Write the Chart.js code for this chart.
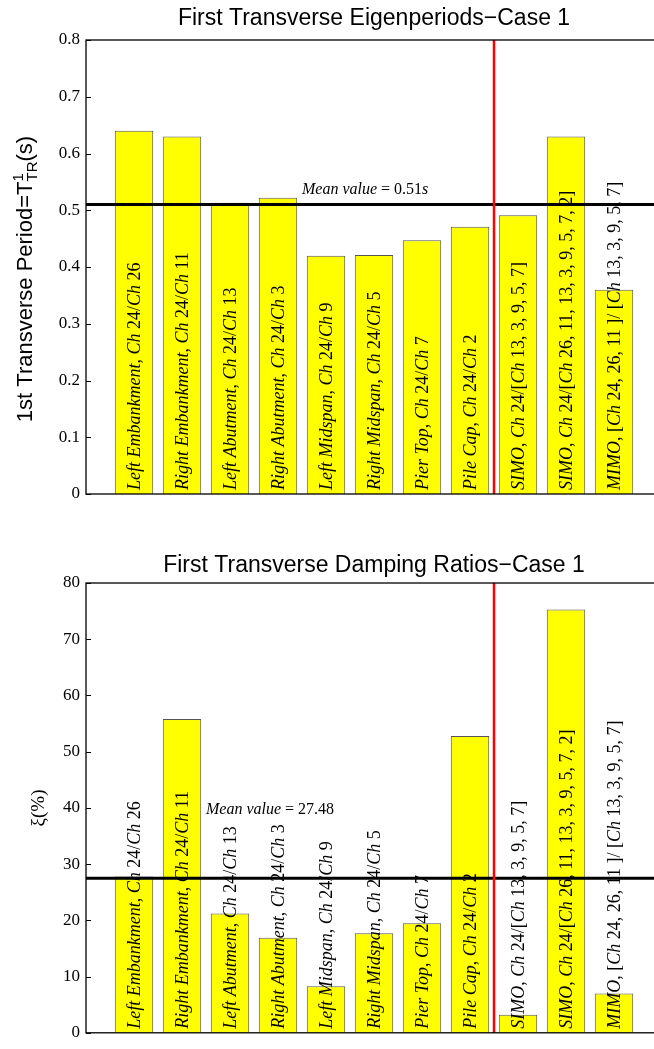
<!DOCTYPE html>
<html>
<head>
<meta charset="utf-8">
<title>First Transverse Eigenperiods / Damping Ratios - Case 1</title>
<script src="https://cdn.jsdelivr.net/npm/chart.js@4.4.1/dist/chart.umd.min.js"></script>
<style>
    html, body { margin: 0; padding: 0; background: #fff; overflow: hidden; }
    #wrap { position: relative; width: 654px; height: 1049px; overflow: hidden; }
    canvas { position: absolute; left: 0; }
    #periodChart { top: 0; }
    #dampingChart { top: 530px; }
</style>
</head>
<body>
<div id="wrap">
    <canvas id="periodChart" width="670" height="530"></canvas>
    <canvas id="dampingChart" width="670" height="519"></canvas>
</div>
<script>
// ============================================================================
// DATA
// ============================================================================

const barLabels = [
    'Left Embankment, Ch 24/Ch 26',
    'Right Embankment, Ch 24/Ch 11',
    'Left Abutment, Ch 24/Ch 13',
    'Right Abutment, Ch 24/Ch 3',
    'Left Midspan, Ch 24/Ch 9',
    'Right Midspan, Ch 24/Ch 5',
    'Pier Top, Ch 24/Ch 7',
    'Pile Cap, Ch 24/Ch 2',
    'SIMO, Ch 24/[Ch 13, 3, 9, 5, 7]',
    'SIMO, Ch 24/[Ch 26, 11, 13, 3, 9, 5, 7, 2]',
    'MIMO, [Ch 24, 26, 11 ]/ [Ch 13, 3, 9, 5, 7]'
];

// bar positions on the x axis (MATLAB style 1..11, xlim 0..12)
const barPositions = [1, 2, 3, 4, 5, 6, 7, 8, 9, 10, 11];

// first transverse period T (s)
const periods = [0.64, 0.63, 0.513, 0.522, 0.42, 0.421, 0.447, 0.471, 0.491, 0.63, 0.36];

// first transverse damping ratio (%)
const damping = [27.8, 55.8, 21.2, 16.9, 8.3, 17.7, 19.5, 52.8, 3.2, 75.3, 7.0];

const periodMean = 0.51;
const dampingMean = 27.48;
const separatorAt = 8.5;   // red line between single-channel and SIMO/MIMO results

// ============================================================================
// PLUGIN: MATLAB-like decorations (box, inward ticks, labels, lines, titles)
// ============================================================================

const SERIF = '"Liberation Serif", "Times New Roman", serif';
const SANS = '"Liberation Sans", Arial, Helvetica, sans-serif';

// Draws a string split in runs: letters italic, digits/punctuation upright
function drawMixedText(ctx, text, x, y, size) {
    const runs = text.split(/([A-Za-z]+)/).filter(r => r.length);
    let cx = x;
    runs.forEach(r => {
        const italic = /^[A-Za-z]+$/.test(r);
        ctx.font = (italic ? 'italic ' : '') + size + 'px ' + SERIF;
        ctx.fillText(r, cx, y);
        cx += ctx.measureText(r).width;
    });
}

const matlabPlugin = {
    id: 'matlab',
    afterDatasetsDraw(chart, args, opts) {
        const ctx = chart.ctx;
        const area = chart.chartArea;
        const xs = chart.scales.x;
        const ys = chart.scales.y;

        ctx.save();

        // Labels written vertically inside the bars
        ctx.fillStyle = '#000';
        ctx.textBaseline = 'alphabetic';
        ctx.textAlign = 'left';
        barLabels.forEach((lab, i) => {
            const px = xs.getPixelForValue(barPositions[i]);
            ctx.save();
            ctx.translate(px + 6, area.bottom - 4);
            ctx.rotate(-Math.PI / 2);
            drawMixedText(ctx, lab, 0, 0, 18);
            ctx.restore();
        });

        // Mean value line
        const my = ys.getPixelForValue(opts.mean);
        ctx.strokeStyle = '#000';
        ctx.lineWidth = 3;
        ctx.beginPath();
        ctx.moveTo(area.left, my);
        ctx.lineTo(area.right, my);
        ctx.stroke();

        // Mean value text
        const tx = xs.getPixelForValue(opts.meanTextX);
        const ty = ys.getPixelForValue(opts.meanTextY);
        let cx = tx;
        opts.meanText.forEach(part => {
            ctx.font = (part[1] ? 'italic ' : '') + '16px ' + SERIF;
            ctx.fillText(part[0], cx, ty);
            cx += ctx.measureText(part[0]).width;
        });

        // Red separator
        const rx = xs.getPixelForValue(separatorAt);
        ctx.strokeStyle = '#ff0000';
        ctx.lineWidth = 2.5;
        ctx.beginPath();
        ctx.moveTo(rx, area.top);
        ctx.lineTo(rx, area.bottom);
        ctx.stroke();

        // Box
        ctx.strokeStyle = '#000';
        ctx.lineWidth = 1.3;
        ctx.strokeRect(area.left, area.top, area.right - area.left, area.bottom - area.top);

        // Inward ticks on y axis
        ctx.lineWidth = 1;
        ys.ticks.forEach(t => {
            const py = Math.round(ys.getPixelForValue(t.value)) + 0.5;
            ctx.beginPath();
            ctx.moveTo(area.left, py);
            ctx.lineTo(area.left + 5, py);
            ctx.moveTo(area.right, py);
            ctx.lineTo(area.right - 5, py);
            ctx.stroke();
        });

        // Title centred over the plot
        ctx.font = '23px ' + SANS;
        ctx.textAlign = 'center';
        ctx.fillText(opts.title, (area.left + area.right) / 2, opts.titleY);

        // Y axis label (rotated)
        ctx.save();
        ctx.translate(opts.yLabelX, opts.yLabelY);
        ctx.rotate(-Math.PI / 2);
        ctx.textAlign = 'left';
        let w = 0;
        opts.yLabel.forEach(p => {
            ctx.font = p.font;
            w += p.advance === false ? 0 : ctx.measureText(p.text).width;
        });
        let lx = -w / 2;
        opts.yLabel.forEach(p => {
            ctx.font = p.font;
            ctx.fillText(p.text, lx, p.dy || 0);
            if (p.advance !== false) lx += ctx.measureText(p.text).width;
        });
        ctx.restore();

        ctx.restore();
    }
};

// ============================================================================
// CHART FACTORY
// ============================================================================

function makeChart(canvasId, values, yMax, yStep, padTop, padBottom, deco) {
    const canvas = document.getElementById(canvasId);
    return new Chart(canvas.getContext('2d'), {
        type: 'bar',
        data: {
            datasets: [{
                data: barPositions.map((x, i) => ({ x: x, y: values[i] })),
                backgroundColor: '#ffff00',
                borderColor: '#555555',
                borderWidth: 1,
                borderSkipped: 'bottom',
                barPercentage: 0.8,
                categoryPercentage: 1.0
            }]
        },
        options: {
            responsive: false,
            animation: false,
            devicePixelRatio: 1,
            layout: { padding: { top: padTop, bottom: padBottom, left: 0, right: 8 } },
            plugins: {
                legend: { display: false },
                tooltip: { enabled: false },
                title: { display: false },
                matlab: deco
            },
            scales: {
                x: {
                    type: 'linear',
                    min: 0,
                    max: 12,
                    offset: false,
                    display: false,
                    ticks: { stepSize: 1 }
                },
                y: {
                    min: 0,
                    max: yMax,
                    ticks: {
                        stepSize: yStep,
                        color: '#000',
                        padding: 6,
                        font: { family: SERIF, size: 17 }
                    },
                    grid: { display: false, drawTicks: false },
                    border: { display: false },
                    afterFit: s => { s.width = 86; }
                }
            }
        },
        plugins: [matlabPlugin]
    });
}

makeChart('periodChart', periods, 0.8, 0.1, 40, 36, {
    mean: periodMean,
    meanText: [['Mean value', true], [' = 0.51', false], ['s', true]],
    meanTextX: 4.5,
    meanTextY: 0.528,
    title: 'First Transverse Eigenperiods\u2212Case 1',
    titleY: 25,
    yLabelX: 32,
    yLabelY: 279,
    yLabel: [
        { text: '1st Transverse Period=T', font: '22px ' + SANS },
        { text: '1', font: '15px ' + SANS, dy: -9, advance: false },
        { text: 'TR', font: '15px ' + SANS, dy: 5 },
        { text: '(s)', font: '22px ' + SANS }
    ]
});

makeChart('dampingChart', damping, 80, 10, 53, 11, {
    mean: dampingMean,
    meanText: [['Mean value', true], [' = 27.48', false]],
    meanTextX: 2.5,
    meanTextY: 39.0,
    title: 'First Transverse Damping Ratios\u2212Case 1',
    titleY: 42,
    yLabelX: 44,
    yLabelY: 278,
    yLabel: [
        { text: '\u03be(%)', font: '19px ' + SERIF }
    ]
});
</script>
</body>
</html>
